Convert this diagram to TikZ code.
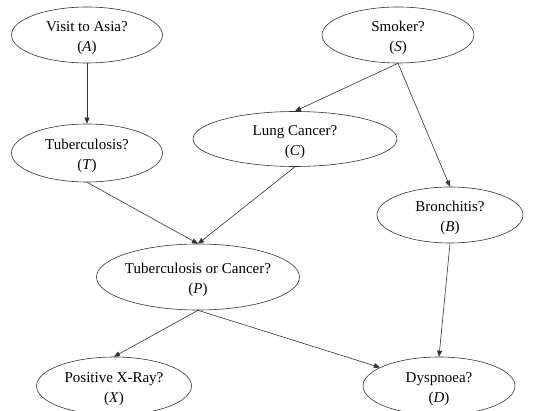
\documentclass[tikz,border=0pt]{standalone}
\usepackage{fontspec}
\setmainfont{Liberation Serif}
\usetikzlibrary{shapes.geometric,arrows.meta}
\tikzset{
  var/.style={draw=black!80, line width=0.6pt, ellipse, inner sep=0pt,
    label={[align=center, yshift=-3pt, font=\fontsize{15}{20.5}\selectfont]center:#1}},
  edge/.style={draw=black!80, line width=0.6pt, -{Triangle[length=6pt,width=5pt]}}
}
\begin{document}
\begin{tikzpicture}[x=1pt,y=-1pt]
\useasboundingbox (0,0) rectangle (545,411);
\node[var={Visit to Asia?\\(\textit{A})}, minimum width=151pt, minimum height=56pt] (A) at (87,35) {};
\node[var={Smoker?\\(\textit{S})}, minimum width=152pt, minimum height=56pt] (S) at (398,35) {};
\node[var={Tuberculosis?\\(\textit{T})}, minimum width=151pt, minimum height=58pt] (T) at (87,153) {};
\node[var={Lung Cancer?\\(\textit{C})}, minimum width=204pt, minimum height=55pt] (C) at (295,139) {};
\node[var={Bronchitis?\\(\textit{B})}, minimum width=146pt, minimum height=56pt] (B) at (450,215) {};
\node[var={Tuberculosis or Cancer?\\(\textit{P})}, minimum width=203pt, minimum height=66pt] (P) at (198,277) {};
\node[var={Positive X-Ray?\\(\textit{X})}, minimum width=155pt, minimum height=58pt] (X) at (114,386) {};
\node[var={Dyspnoea?\\(\textit{D})}, minimum width=152pt, minimum height=58pt] (D) at (439,386) {};
\draw[edge] (A) -- (T);
\draw[edge] (S.south) -- (C.north);
\draw[edge] (S.south) -- (B.north);
\draw[edge] (T.south) -- (P.north);
\draw[edge] (C.south) -- (P.north);
\draw[edge] (B.south) -- (D.north);
\draw[edge] (P.south) -- (X.north);
\draw[edge] (P.south) -- (D);
\end{tikzpicture}
\end{document}
